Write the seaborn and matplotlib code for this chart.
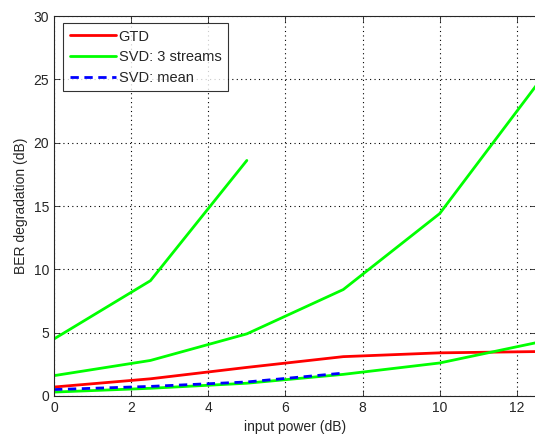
import numpy as np
import pandas as pd
import matplotlib
matplotlib.use("Agg")
import matplotlib.pyplot as plt
import seaborn as sns

# input power grid (dB)
power = [0, 2.5, 5, 7.5, 10, 12.5]

# BER degradation (dB)
gtd = [0.7, 1.35, 2.25, 3.1, 3.4, 3.5]
svd_stream1 = [4.5, 9.1, 18.6]            # stops at 5 dB
svd_stream2 = [1.6, 2.8, 4.9, 8.4, 14.4, 24.5]
svd_stream3 = [0.3, 0.6, 1.0, 1.7, 2.6, 4.2]
svd_mean = [0.5, 0.75, 1.1, 1.8]          # stops at 7.5 dB

labels = ["GTD", "SVD: 3 streams", "SVD: mean"]

rows = []
for name, unit, vals in [("GTD", "g", gtd),
                         ("SVD: 3 streams", "s1", svd_stream1),
                         ("SVD: 3 streams", "s2", svd_stream2),
                         ("SVD: 3 streams", "s3", svd_stream3),
                         ("SVD: mean", "m", svd_mean)]:
    for x, y in zip(power, vals):
        rows.append({"power": x, "ber": y, "curve": name, "unit": unit})
df = pd.DataFrame(rows)

sns.set_style("ticks")
plt.rcParams['font.family'] = ['Liberation Sans', 'DejaVu Sans']
plt.rcParams['xtick.direction'] = 'in'
plt.rcParams['ytick.direction'] = 'in'

fig = plt.figure(figsize=(5.35, 4.36), dpi=100)
ax = fig.add_axes([0.101, 0.092, 0.901, 0.871])

palette = {"GTD": "#ff0000", "SVD: 3 streams": "#00ff00", "SVD: mean": "#0000ff"}
dashes = {"GTD": "", "SVD: 3 streams": "", "SVD: mean": (3, 2)}
sns.lineplot(data=df, x="power", y="ber", hue="curve", style="curve",
             units="unit", estimator=None, hue_order=labels, style_order=labels,
             palette=palette, dashes=dashes, linewidth=2, ax=ax, sort=False)

ax.set_xlim(0, 12.5)
ax.set_ylim(0, 30)
ax.set_xticks(range(0, 13, 2))
ax.set_yticks(range(0, 31, 5))
ax.grid(True, linestyle=(0, (1, 3)), color='black', linewidth=0.8)
ax.tick_params(top=True, right=True, labelsize=10, length=4, width=0.6)
for s in ax.spines.values():
    s.set_linewidth(0.8)
ax.set_xlabel("input power (dB)", fontsize=10)
ax.set_ylabel("BER degradation (dB)", fontsize=10)

handles, lbls = ax.get_legend_handles_labels()
ax.legend(handles, lbls, loc='upper left', bbox_to_anchor=(0.019, 0.982),
          fontsize=10.5, frameon=True, fancybox=False, edgecolor='black',
          handlelength=3.2, handletextpad=0.15, borderpad=0.45, labelspacing=0.45,
          borderaxespad=0)
ax.get_legend().get_frame().set_linewidth(0.8)

fig.savefig("out.png", dpi=100)
